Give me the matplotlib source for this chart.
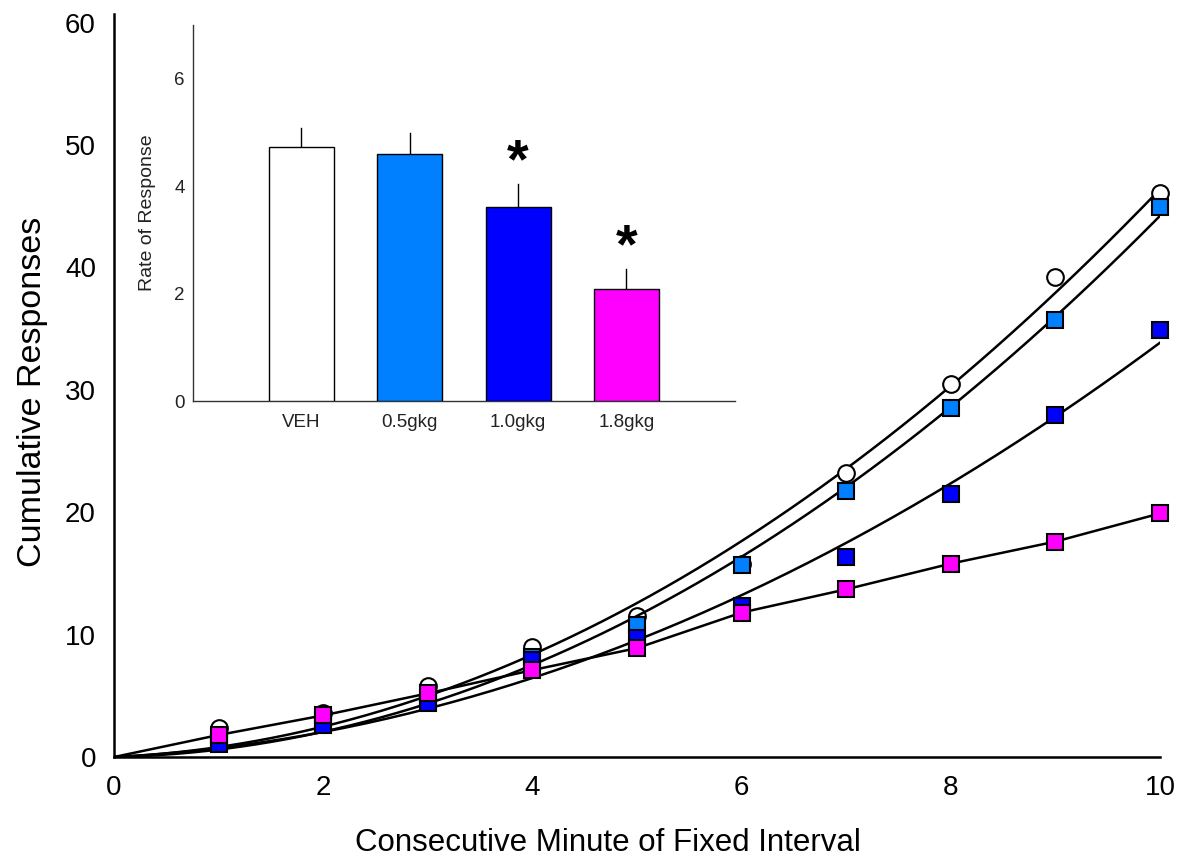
import numpy as np
import matplotlib
matplotlib.use("Agg")
import matplotlib.pyplot as plt

plt.rcParams['font.family'] = ['Liberation Sans', 'DejaVu Sans']

# ---- data: main panel ----
minutes = [1, 2, 3, 4, 5, 6, 7, 8, 9, 10]
veh = [2.4, 3.6, 5.8, 9.0, 11.5, 15.8, 23.2, 30.5, 39.2, 46.1]
dose_05 = [1.2, 3.0, 4.8, 8.2, 10.8, 15.7, 21.7, 28.5, 35.7, 44.9]
dose_10 = [1.1, 2.6, 4.4, 7.9, 9.7, 12.3, 16.3, 21.5, 27.9, 34.9]
dose_18 = [1.8, 3.4, 5.2, 7.1, 8.9, 11.8, 13.7, 15.8, 17.6, 19.9]

x_ticks = [0, 2, 4, 6, 8, 10]
y_ticks = [0, 10, 20, 30, 40, 50, 60]

# ---- data: inset ----
groups = ['VEH', '0.5gkg', '1.0gkg', '1.8gkg']
rate_mean = [4.73, 4.60, 3.61, 2.08]
rate_err = [0.35, 0.39, 0.43, 0.38]
significant = [False, False, True, True]
inset_y_ticks = [0, 2, 4, 6]

col_veh = 'white'
col_05 = '#0080FF'
col_10 = '#0000FF'
col_18 = '#FF00FF'

fig = plt.figure(figsize=(11.89, 8.63), dpi=100)
fig.patch.set_facecolor('white')

ax = fig.add_axes([0.0959, 0.1228, 0.8797, 0.861])
ax.set_xlim(0, 10)
ax.set_ylim(0, 60.7)
for s in ['top', 'right']:
    ax.spines[s].set_visible(False)
for s in ['left', 'bottom']:
    ax.spines[s].set_linewidth(1.8)
ax.set_xticks(x_ticks)
ax.set_yticks(y_ticks)
ax.tick_params(axis='both', length=0, labelsize=20)
ax.tick_params(axis='x', pad=13)
ax.tick_params(axis='y', pad=13)

xs = np.array(minutes, dtype=float)
xfit = np.linspace(0, 10, 200)

def quad_fit(yv):
    A = np.column_stack([xs, xs ** 2])
    coef, *_ = np.linalg.lstsq(A, np.array(yv), rcond=None)
    return coef[0] * xfit + coef[1] * xfit ** 2

series = [
    (veh, 'o', col_veh, 'fit'),
    (dose_05, 's', col_05, 'fit'),
    (dose_10, 's', col_10, 'fit'),
    (dose_18, 's', col_18, 'connect'),
]
z = 2
for yv, mk, col, kind in series:
    if kind == 'fit':
        ax.plot(xfit, quad_fit(yv), color='black', lw=1.8, zorder=z)
    else:
        ax.plot(np.r_[0, xs], np.r_[0, yv], color='black', lw=1.8, zorder=z)
    ax.plot(xs, yv, linestyle='none', marker=mk, markersize=12 if mk == 'o' else 11,
            markerfacecolor=col, markeredgecolor='black', markeredgewidth=1.5,
            zorder=z + 1, clip_on=False)
    z += 2

fig.text(608 / 1189, 1 - 843 / 863, 'Consecutive Minute of Fixed Interval',
         ha='center', va='center', fontsize=22.5)
fig.text(33 / 1189, 1 - 392 / 863, 'Cumulative Responses', rotation=90,
         ha='center', va='center', fontsize=24.5)

# ---- inset ----
ins = fig.add_axes([0.1623, 0.5353, 0.4557, 0.4357])
ins.patch.set_alpha(0)
ins.set_xlim(0, 5)
ins.set_ylim(0, 7)
for s in ['top', 'right']:
    ins.spines[s].set_visible(False)
for s in ['left', 'bottom']:
    ins.spines[s].set_linewidth(1.0)
    ins.spines[s].set_color('#333333')
pos = np.arange(1, len(groups) + 1)
bar_cols = [col_veh, col_05, col_10, col_18]
ins.bar(pos, rate_mean, width=0.6, color=bar_cols, edgecolor='black', linewidth=1.0, zorder=3)
for p, m, e in zip(pos, rate_mean, rate_err):
    ins.plot([p, p], [m, m + e], color='black', lw=1.0, zorder=2)
for p, m, e, sig in zip(pos, rate_mean, rate_err, significant):
    if sig:
        ins.text(p, m + e - 0.1, '*', ha='center', va='bottom', fontsize=40,
                 fontweight='bold')
ins.set_xticks(pos)
ins.set_xticklabels(groups)
ins.set_yticks(inset_y_ticks)
ins.tick_params(axis='both', length=0, labelsize=13.5, colors='#222222')
ins.tick_params(axis='x', pad=9)
ins.tick_params(axis='y', pad=6)
ins.set_ylabel('Rate of Response', fontsize=14, color='#222222', labelpad=13)

fig.savefig('out.png', dpi=100, facecolor='white')
